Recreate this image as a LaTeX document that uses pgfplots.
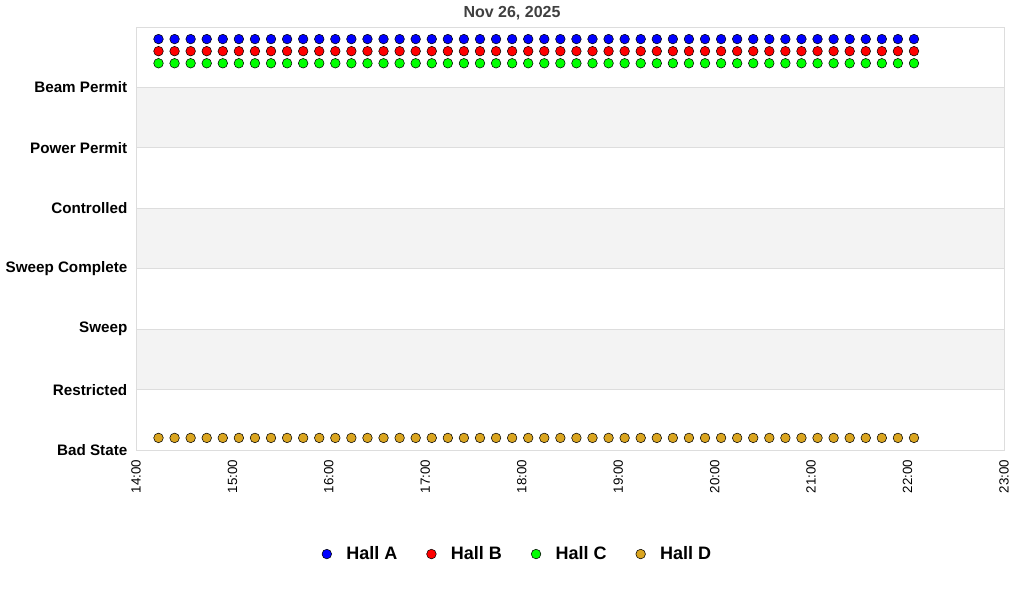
\documentclass[border=0pt]{standalone}
\usepackage{pgfplots}
\usepackage{pgfplotstable}
\pgfplotsset{compat=1.18}
\usepackage{fontspec}
\setmainfont{Liberation Sans}

\definecolor{hallA}{RGB}{0,0,255}
\definecolor{hallB}{RGB}{255,0,0}
\definecolor{hallC}{RGB}{0,255,0}
\definecolor{hallD}{RGB}{218,165,32}
\definecolor{band}{RGB}{243,243,243}
\definecolor{gridc}{RGB}{221,221,221}

% minutes after 14:00, state value per hall
\pgfplotstableread{
t a b c d
14 6.8 6.6 6.4 0.2
24 6.8 6.6 6.4 0.2
34 6.8 6.6 6.4 0.2
44 6.8 6.6 6.4 0.2
54 6.8 6.6 6.4 0.2
64 6.8 6.6 6.4 0.2
74 6.8 6.6 6.4 0.2
84 6.8 6.6 6.4 0.2
94 6.8 6.6 6.4 0.2
104 6.8 6.6 6.4 0.2
114 6.8 6.6 6.4 0.2
124 6.8 6.6 6.4 0.2
134 6.8 6.6 6.4 0.2
144 6.8 6.6 6.4 0.2
154 6.8 6.6 6.4 0.2
164 6.8 6.6 6.4 0.2
174 6.8 6.6 6.4 0.2
184 6.8 6.6 6.4 0.2
194 6.8 6.6 6.4 0.2
204 6.8 6.6 6.4 0.2
214 6.8 6.6 6.4 0.2
224 6.8 6.6 6.4 0.2
234 6.8 6.6 6.4 0.2
244 6.8 6.6 6.4 0.2
254 6.8 6.6 6.4 0.2
264 6.8 6.6 6.4 0.2
274 6.8 6.6 6.4 0.2
284 6.8 6.6 6.4 0.2
294 6.8 6.6 6.4 0.2
304 6.8 6.6 6.4 0.2
314 6.8 6.6 6.4 0.2
324 6.8 6.6 6.4 0.2
334 6.8 6.6 6.4 0.2
344 6.8 6.6 6.4 0.2
354 6.8 6.6 6.4 0.2
364 6.8 6.6 6.4 0.2
374 6.8 6.6 6.4 0.2
384 6.8 6.6 6.4 0.2
394 6.8 6.6 6.4 0.2
404 6.8 6.6 6.4 0.2
414 6.8 6.6 6.4 0.2
424 6.8 6.6 6.4 0.2
434 6.8 6.6 6.4 0.2
444 6.8 6.6 6.4 0.2
454 6.8 6.6 6.4 0.2
464 6.8 6.6 6.4 0.2
474 6.8 6.6 6.4 0.2
484 6.8 6.6 6.4 0.2
}\halls

\begin{document}
\begin{tikzpicture}
\path (0,0) rectangle (768pt,450pt);
\node[font=\bfseries\fontsize{12}{14}\selectfont, text=black!75] at (384pt,440pt) {Nov 26, 2025};
\begin{axis}[
    set layers,
    at={(102pt,112.5pt)}, anchor=south west,
    scale only axis,
    width=651pt, height=317.25pt,
    xmin=0, xmax=540, ymin=0, ymax=7,
    axis line style={gridc},
    xtick={0,60,...,540},
    xticklabels={14:00,15:00,16:00,17:00,18:00,19:00,20:00,21:00,22:00,23:00},
    x tick label style={rotate=90, anchor=east, xshift=-4pt, font=\fontsize{10}{12}\selectfont},
    ytick={0,...,6},
    yticklabels={Bad State,Restricted,Sweep,Sweep Complete,Controlled,Power Permit,Beam Permit},
    y tick label style={font=\bfseries\fontsize{11.4}{13}\selectfont, xshift=-3pt},
    major tick length=0pt,
    ymajorgrids, grid style={gridc, line width=0.6pt},
    legend style={at={(0.44,-0.246)}, anchor=center, draw=none, legend columns=4,
      font=\bfseries\fontsize{13.5}{16}\selectfont,
      /tikz/every odd column/.append style={column sep=9pt},
      /tikz/every even column/.append style={column sep=20pt}},
    legend cell align=left,
    every axis plot/.append style={only marks, mark=*, mark size=3.6pt,
      mark options={draw=black, line width=0.5pt}},
]
\begin{pgfonlayer}{axis background}
\fill[band] (axis cs:0,1) rectangle (axis cs:540,2);
\fill[band] (axis cs:0,3) rectangle (axis cs:540,4);
\fill[band] (axis cs:0,5) rectangle (axis cs:540,6);
\end{pgfonlayer}
\addplot[mark options={fill=hallA}] table[x=t, y=a] {\halls};
\addplot[mark options={fill=hallB}] table[x=t, y=b] {\halls};
\addplot[mark options={fill=hallC}] table[x=t, y=c] {\halls};
\addplot[mark options={fill=hallD}] table[x=t, y=d] {\halls};
\legend{Hall A, Hall B, Hall C, Hall D}
\end{axis}
\end{tikzpicture}
\end{document}
